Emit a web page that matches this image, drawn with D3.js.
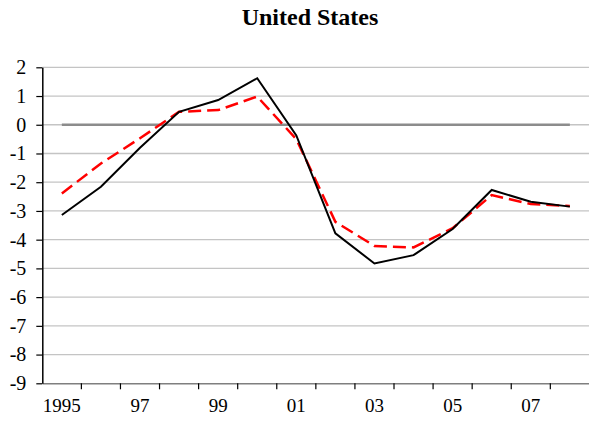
<!DOCTYPE html>
<html><head><meta charset="utf-8">
<script src="https://cdn.jsdelivr.net/npm/d3@7"></script>
<style>body{margin:0;background:#fff}svg{display:block}</style>
</head><body>
<svg id="c" width="589" height="425"></svg>
<script>
const years = ["1995","1996","1997","1998","1999","2000","2001","2002","2003","2004","2005","2006","2007","2008"];
const tickLabels = {"1995":"1995","1997":"97","1999":"99","2001":"01","2003":"03","2005":"05","2007":"07"};
const actual = [-3.14,-2.16,-0.80,0.45,0.86,1.62,-0.37,-3.78,-4.83,-4.54,-3.63,-2.27,-2.68,-2.85];
const estimate = [-2.39,-1.35,-0.47,0.45,0.51,0.98,-0.50,-3.38,-4.22,-4.27,-3.60,-2.45,-2.76,-2.83];
const yTicks = [2,1,0,-1,-2,-3,-4,-5,-6,-7,-8,-9];

const svg = d3.select("#c");
const L = 42.3, R = 589.4, T = 67.3, B = 383.3;
const x = d3.scaleBand().domain(years).range([L, R]).padding(0);
const y = d3.scaleLinear().domain([-9, 2]).range([B, T]);
const bw = x.bandwidth();
const cx = d => x(d) + bw / 2;
const font = "'Liberation Serif','Times New Roman',serif";

// title
svg.append("text").attr("x", 310).attr("y", 25).attr("text-anchor", "middle")
  .attr("font-family", font).attr("font-weight", "bold").attr("font-size", 24)
  .text("United States");

// gridlines
svg.append("g").selectAll("line").data(yTicks.filter(v => v !== -9)).join("line")
  .attr("x1", L).attr("x2", R).attr("y1", d => y(d)).attr("y2", d => y(d))
  .attr("stroke", "#c4c4c4").attr("stroke-width", 1.3);

// zero line
svg.append("line").attr("x1", cx(years[0])).attr("x2", cx(years[years.length - 1]))
  .attr("y1", y(0)).attr("y2", y(0)).attr("stroke", "#8c8c8c").attr("stroke-width", 2.5);

// x axis
const xa = svg.append("g").attr("transform", `translate(0,${B})`)
  .call(d3.axisBottom(x).tickSize(6).tickSizeOuter(0).tickFormat(d => tickLabels[d] || ""));
xa.attr("font-family", font);
xa.select(".domain").attr("stroke", "#7f7f7f").attr("stroke-width", 1.5);
xa.selectAll(".tick line").attr("transform", `translate(${-bw / 2},0)`).attr("stroke", "#000").attr("stroke-width", 1.2);
xa.selectAll(".tick text").attr("font-family", font).attr("font-size", 19).attr("fill", "#000").attr("dy", "1.05em");
xa.selectAll(".tick").filter((d, i) => i === 0).select("line").remove();

// y axis
const ya = svg.append("g").attr("transform", `translate(${L},0)`)
  .call(d3.axisLeft(y).tickValues(yTicks).tickSize(6).tickSizeOuter(0).tickFormat(d => String(d)));
ya.attr("font-family", font);
ya.select(".domain").attr("stroke", "#000").attr("stroke-width", 1.5);
ya.selectAll(".tick line").attr("stroke", "#000").attr("stroke-width", 1.2);
ya.selectAll(".tick text").attr("font-family", font).attr("font-size", 20).attr("fill", "#000").attr("x", -16);

// lines
const line = d3.line().x((d, i) => cx(years[i])).y(d => y(d));
svg.append("path").datum(estimate).attr("d", line).attr("fill", "none")
  .attr("stroke", "#ff0000").attr("stroke-width", 2.5).attr("stroke-dasharray", "13,6");
svg.append("path").datum(actual).attr("d", line).attr("fill", "none")
  .attr("stroke", "#000").attr("stroke-width", 2);
</script>
</body></html>
